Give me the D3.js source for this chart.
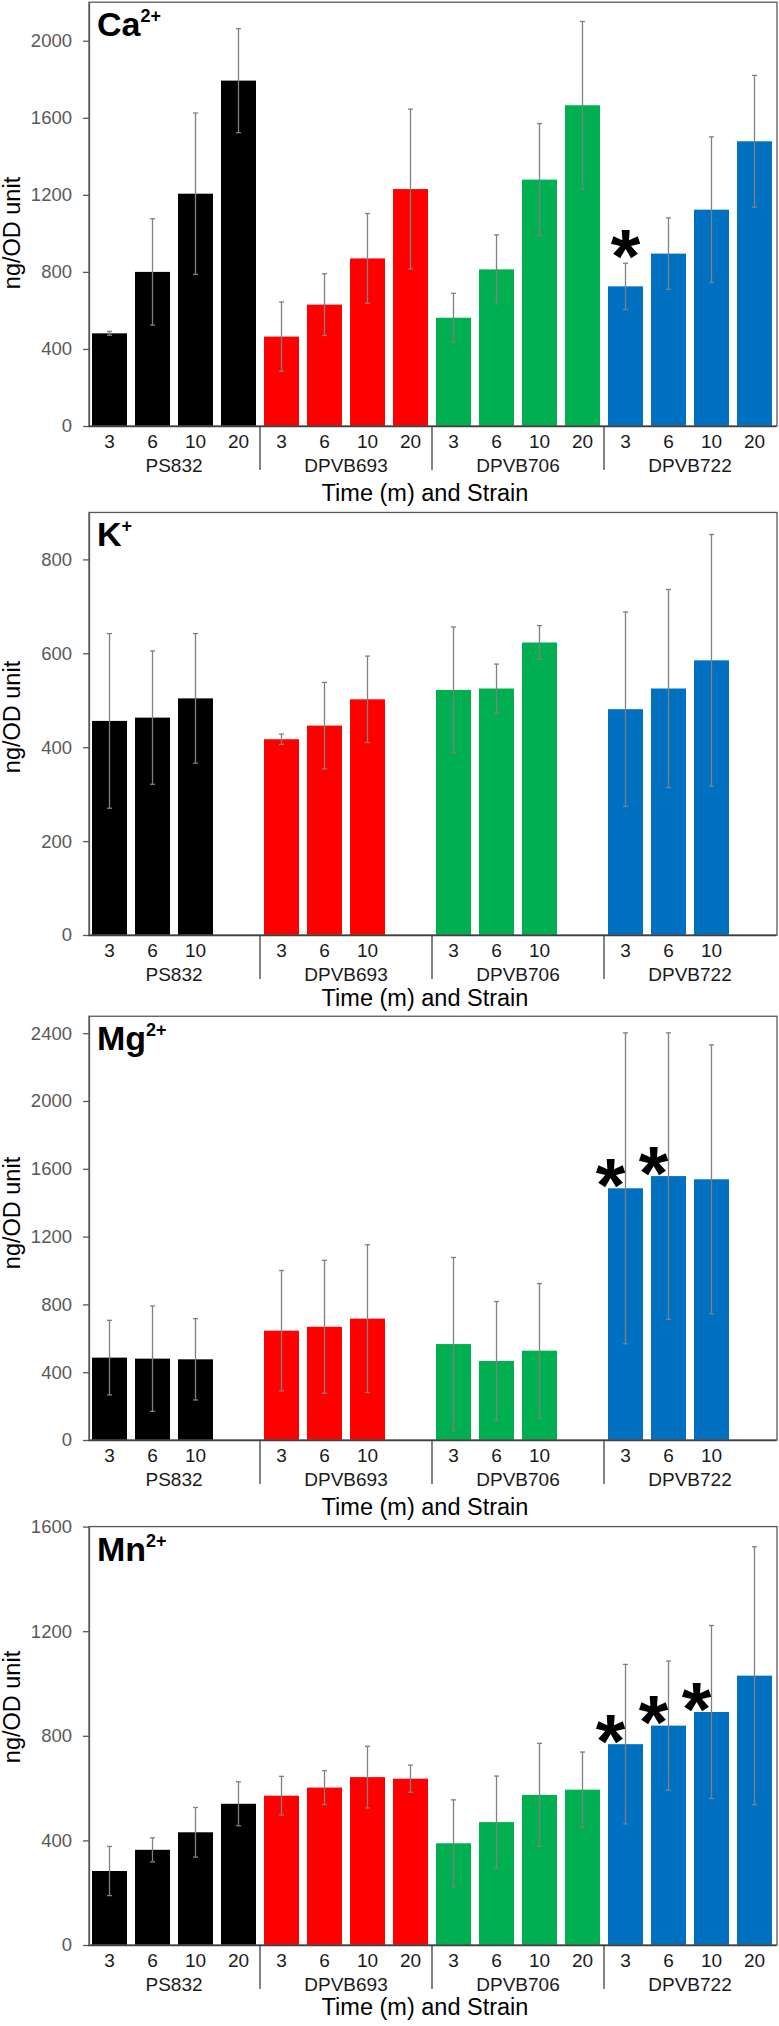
<!DOCTYPE html>
<html><head><meta charset="utf-8">
<script src="https://cdn.jsdelivr.net/npm/d3@7"></script>
<style>
body{margin:0;background:#fff}
svg{display:block}
text{font-family:"Liberation Sans",Arial,Helvetica,sans-serif}
</style>
</head><body>
<svg id="chart" width="779" height="2026"></svg>
<script>
// ---------------- data ----------------
const strains = ["PS832","DPVB693","DPVB706","DPVB722"];
const timesFull = [3,6,10,20];
const timesShort = [3,6,10];
const strainColors = ["#000000","#ff0000","#00b050","#0070c0"];

const caValues = [481,800,1206,1793, 464,630,870,1230, 562,813,1279,1665, 725,895,1123,1478];
const caErrors = [10,276,419,270, 180,160,233,415, 127,179,291,435, 120,185,378,342];
const caTicks  = [0,400,800,1200,1600,2000];
const caStars  = [12];

const kValues = [456,463,504, 417,446,502, 522,525,623, 481,525,585];
const kErrors = [186,142,138, 11,92,92, 134,52,36, 207,211,268];
const kTicks  = [0,200,400,600,800];
const kStars  = [];

const mgValues = [486,480,476, 645,668,716, 566,466,527, 1485,1557,1538];
const mgErrors = [220,311,240, 355,392,436, 511,351,396, 917,845,793];
const mgTicks  = [0,400,800,1200,1600,2000,2400];
const mgStars  = [9,10];

const mnValues = [283,364,431,540, 571,602,642,636, 389,470,574,594, 768,839,891,1030];
const mnErrors = [94,46,95,84, 74,65,118,52, 166,176,197,144, 305,247,331,493];
const mnTicks  = [0,400,800,1200,1600];
const mnStars  = [12,13,14];

// ---------------- layout ----------------
const svg = d3.select("#chart");
const FONT = '"Liberation Sans",Arial,Helvetica,sans-serif';
const frameL = 89, frameR = 777;
const x = d3.scaleBand().domain(d3.range(16)).range([88,776])
  .paddingInner(8/43).paddingOuter(4/43);

const panels = [
  {ion:"Ca", sup:"2+", values:caValues, errors:caErrors, times:timesFull, ticks:caTicks, max:2200,
   bottom:426, stars:caStars, starMode:"err", yTitleY:233, xTitleY:501},
  {ion:"K", sup:"+", values:kValues, errors:kErrors, times:timesShort, ticks:kTicks, max:900,
   bottom:935, stars:kStars, starMode:"bar", yTitleY:717, xTitleY:1006},
  {ion:"Mg", sup:"2+", values:mgValues, errors:mgErrors, times:timesShort, ticks:mgTicks, max:2500,
   bottom:1440, stars:mgStars, starMode:"bar", yTitleY:1213, xTitleY:1515},
  {ion:"Mn", sup:"2+", values:mnValues, errors:mnErrors, times:timesFull, ticks:mnTicks, max:1600,
   bottom:1945, stars:mnStars, starMode:"bar", yTitleY:1707, xTitleY:2015}
];
const pxPerUnit = [0.19263, 0.4695, 0.1695, 0.2615];

panels.forEach((p, pi) => {
  const top = p.bottom - p.max * pxPerUnit[pi];
  const y = d3.scaleLinear().domain([0, p.max]).range([p.bottom, top]);
  const g = svg.append("g");

  const recs = [];
  strains.forEach((s, si) => {
    p.times.forEach((t, ti) => {
      const k = si * p.times.length + ti;
      recs.push({slot: si*4 + ti, strain: si, time: t, v: p.values[k], e: p.errors[k], idx: k});
    });
  });

  // bars
  g.selectAll("rect.bar").data(recs).enter().append("rect")
    .attr("class","bar")
    .attr("x", d => x(d.slot))
    .attr("width", x.bandwidth())
    .attr("y", d => y(d.v))
    .attr("height", d => y(0) - y(d.v))
    .attr("fill", d => strainColors[d.strain]);

  // error bars
  const eb = g.selectAll("g.err").data(recs).enter().append("g").attr("class","err")
    .attr("stroke","#808080").attr("stroke-width",1.3);
  const cxf = d => x(d.slot) + x.bandwidth()/2;
  eb.append("line").attr("x1", cxf).attr("x2", cxf)
    .attr("y1", d => y(d.v + d.e)).attr("y2", d => y(Math.max(0, d.v - d.e)));
  eb.append("line").attr("x1", d => cxf(d) - 2.5).attr("x2", d => cxf(d) + 2.5)
    .attr("y1", d => y(d.v + d.e)).attr("y2", d => y(d.v + d.e));
  eb.append("line").attr("x1", d => cxf(d) - 2.5).attr("x2", d => cxf(d) + 2.5)
    .attr("y1", d => y(Math.max(0, d.v - d.e))).attr("y2", d => y(Math.max(0, d.v - d.e)));

  // frame
  g.append("rect").attr("x", frameL).attr("y", y(p.max))
    .attr("width", frameR - frameL).attr("height", y(0) - y(p.max))
    .attr("fill","none").attr("stroke","#595959").attr("stroke-width",1.3);

  // y axis
  const ya = g.append("g").attr("transform", `translate(${frameL},0)`)
    .call(d3.axisLeft(y).tickValues(p.ticks).tickFormat(d3.format("d"))
      .tickSize(6).tickSizeOuter(0).tickPadding(11));
  ya.select(".domain").attr("stroke","#595959").attr("stroke-width",1.3);
  ya.selectAll(".tick line").attr("stroke","#595959").attr("stroke-width",1.3);
  ya.selectAll(".tick text").attr("fill","#595959").style("font-size","18.5px").style("font-family",FONT);

  // x axis (time labels)
  const xa = g.append("g").attr("transform", `translate(0,${p.bottom})`)
    .call(d3.axisBottom(x).tickValues(recs.map(d => d.slot))
      .tickFormat(s => recs.find(r => r.slot === s).time).tickSize(0).tickPadding(8.5));
  xa.select(".domain").attr("stroke","#404040").attr("stroke-width",1.5);
  xa.selectAll(".tick text").attr("fill","#1a1a1a").style("font-size","19px").style("font-family",FONT);

  // group separators
  [1,2,3].forEach(k => {
    const sx = x(k*4) - x.step()*x.paddingInner()/2;
    g.append("line").attr("x1", sx).attr("x2", sx)
      .attr("y1", p.bottom).attr("y2", p.bottom + 44)
      .attr("stroke","#404040").attr("stroke-width",1.3);
  });

  // strain labels
  strains.forEach((s, si) => {
    const cx = (x(si*4) + x(si*4+3) + x.bandwidth())/2;
    g.append("text").attr("x", cx).attr("y", p.bottom + 46)
      .attr("text-anchor","middle").attr("fill","#1a1a1a")
      .style("font-size","19px").text(s);
  });

  // axis titles
  g.append("text").attr("x", 425).attr("y", p.xTitleY)
    .attr("text-anchor","middle").attr("fill","#000")
    .style("font-size","23.5px").text("Time (m) and Strain");
  g.append("text").attr("transform", `translate(20,${p.yTitleY}) rotate(-90)`)
    .attr("text-anchor","middle").attr("fill","#000")
    .style("font-size","23.5px").text("ng/OD unit");

  // ion label
  const lab = g.append("text").attr("x", 97).attr("y", y(p.max) + 34)
    .attr("fill","#000").style("font-size","34px").style("font-weight","bold");
  lab.append("tspan").text(p.ion);
  lab.append("tspan").attr("dy", -14).style("font-size","18px").text(p.sup);

  // significance stars
  p.stars.forEach(k => {
    const r = recs.find(d => d.idx === k);
    const bc = cxf(r);
    let cx, cy;
    if (p.starMode === "err") { cx = bc; cy = y(r.v + r.e) - 23; }
    else { cx = bc - 15; cy = y(r.v) - 19; }
    g.append("text").attr("x", cx).attr("y", cy + 0.55*76)
      .attr("text-anchor","middle").attr("fill","#000")
      .style("font-size","76px").style("font-weight","bold").text("*");
  });
});
</script>
</body></html>
